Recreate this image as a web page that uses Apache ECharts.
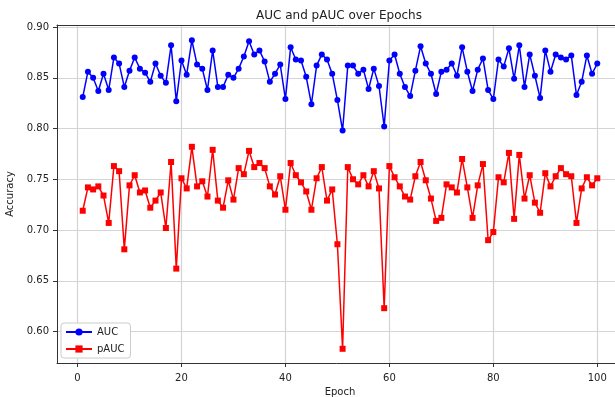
<!DOCTYPE html>
<html>
<head>
<meta charset="utf-8">
<script src="https://cdn.jsdelivr.net/npm/echarts@6/dist/echarts.min.js"></script>
<style>
  html, body { margin: 0; padding: 0; background: #fff; }
  #chart { width: 615px; height: 397px; }
</style>
</head>
<body>
<div id="chart"></div>
<script>
// epochs 1..100
const epochs = Array.from({ length: 100 }, (v, i) => i + 1)

const aucValues = [
  0.831, 0.856, 0.850, 0.837, 0.854, 0.838, 0.870, 0.864, 0.841, 0.857,
  0.870, 0.859, 0.855, 0.846, 0.864, 0.852, 0.845, 0.882, 0.827, 0.867,
  0.853, 0.887, 0.863, 0.859, 0.838, 0.877, 0.841, 0.841, 0.853, 0.850,
  0.859, 0.871, 0.886, 0.873, 0.877, 0.866, 0.846, 0.854, 0.863, 0.829,
  0.880, 0.868, 0.867, 0.851, 0.824, 0.862, 0.873, 0.868, 0.854, 0.828,
  0.798, 0.862, 0.862, 0.854, 0.858, 0.839, 0.859, 0.842, 0.802, 0.867,
  0.873, 0.854, 0.841, 0.832, 0.857, 0.881, 0.864, 0.854, 0.834, 0.856,
  0.858, 0.864, 0.852, 0.880, 0.856, 0.837, 0.858, 0.869, 0.838, 0.829,
  0.868, 0.861, 0.879, 0.849, 0.882, 0.841, 0.873, 0.852, 0.830, 0.877,
  0.856, 0.873, 0.870, 0.868, 0.872, 0.833, 0.846, 0.872, 0.854, 0.864
]

const pAucValues = [
  0.719, 0.742, 0.740, 0.743, 0.734, 0.707, 0.763, 0.758, 0.681, 0.744,
  0.754, 0.737, 0.739, 0.722, 0.729, 0.737, 0.702, 0.767, 0.662, 0.751,
  0.741, 0.782, 0.743, 0.748, 0.733, 0.779, 0.729, 0.722, 0.749, 0.730,
  0.761, 0.755, 0.778, 0.762, 0.766, 0.761, 0.743, 0.735, 0.753, 0.720,
  0.766, 0.754, 0.747, 0.738, 0.720, 0.751, 0.762, 0.729, 0.740, 0.686,
  0.583, 0.762, 0.750, 0.745, 0.754, 0.743, 0.758, 0.741, 0.623, 0.763,
  0.752, 0.743, 0.733, 0.730, 0.753, 0.767, 0.749, 0.731, 0.709, 0.712,
  0.745, 0.742, 0.737, 0.770, 0.742, 0.712, 0.744, 0.765, 0.690, 0.698,
  0.752, 0.747, 0.776, 0.711, 0.774, 0.731, 0.754, 0.727, 0.717, 0.756,
  0.743, 0.753, 0.761, 0.755, 0.753, 0.707, 0.741, 0.752, 0.744, 0.751
]

const xTicks = [0, 20, 40, 60, 80, 100]
const yTicks = [0.60, 0.65, 0.70, 0.75, 0.80, 0.85, 0.90]

const font = 'DejaVu Sans'
const chart = echarts.init(document.getElementById('chart'))

const option = {
  animation: false,
  backgroundColor: '#fff',
  title: {
    text: 'AUC and pAUC over Epochs',
    left: 256,
    top: 10,
    padding: 0,
    textStyle: { fontFamily: font, fontSize: 12, fontWeight: 'normal', color: '#222' }
  },
  legend: {
    orient: 'vertical',
    left: 61,
    top: 323,
    padding: [4, 6, 4, 4],
    itemGap: 7,
    itemWidth: 26,
    itemHeight: 9,
    backgroundColor: '#fff',
    borderColor: '#ccc',
    borderWidth: 1,
    borderRadius: 3,
    textStyle: { fontFamily: font, fontSize: 10, color: '#222' },
    data: ['AUC', 'pAUC']
  },
  // plot runs past the right edge of the picture, like the cropped original
  grid: {
    left: 57,
    top: 25,
    right: -8,
    bottom: 34,
    outerBoundsMode: 'none'
  },
  xAxis: [
    {
      type: 'value',
      min: -3.95,
      max: 104.95,
      name: 'Epoch',
      nameLocation: 'middle',
      nameGap: 18,
      nameTextStyle: { fontFamily: font, fontSize: 10, color: '#222' },
      axisLine: { show: true, onZero: false, lineStyle: { color: '#333', width: 1 } },
      axisTick: { show: true, length: 4, customValues: xTicks, lineStyle: { color: '#333' } },
      axisLabel: {
        customValues: xTicks,
        margin: 10,
        fontFamily: font, fontSize: 10, color: '#222'
      },
      splitLine: { show: true, lineStyle: { color: '#d4d4d4', width: 1.2 } }
    },
    {
      // top spine only
      type: 'value',
      position: 'top',
      min: -3.95,
      max: 104.95,
      axisLine: { show: true, onZero: false, lineStyle: { color: '#333', width: 1 } },
      axisTick: { show: false },
      axisLabel: { show: false },
      splitLine: { show: false }
    }
  ],
  yAxis: {
    type: 'value',
    min: 0.569,
    max: 0.902,
    name: 'Accuracy',
    nameLocation: 'middle',
    nameRotate: 90,
    nameGap: 35,
    nameTextStyle: { fontFamily: font, fontSize: 10, color: '#222' },
    axisLine: { show: true, onZero: false, lineStyle: { color: '#333', width: 1 } },
    axisTick: { show: true, length: 4, customValues: yTicks, lineStyle: { color: '#333' } },
    axisLabel: {
      customValues: yTicks,
      margin: 8,
      formatter: v => v.toFixed(2),
      fontFamily: font, fontSize: 10, color: '#222'
    },
    splitLine: { show: true, lineStyle: { color: '#d4d4d4', width: 1.2 } }
  },
  series: [
    {
      name: 'AUC',
      type: 'line',
      data: epochs.map((e, i) => [e, aucValues[i]]),
      symbol: 'circle',
      symbolSize: 6,
      showSymbol: true,
      itemStyle: { color: '#0000ff' },
      lineStyle: { color: '#0000ff', width: 1.5 }
    },
    {
      name: 'pAUC',
      type: 'line',
      data: epochs.map((e, i) => [e, pAucValues[i]]),
      symbol: 'rect',
      symbolSize: 6,
      showSymbol: true,
      itemStyle: { color: '#ff0000' },
      lineStyle: { color: '#ff0000', width: 1.5 }
    }
  ]
}

chart.setOption(option)
</script>
</body>
</html>
